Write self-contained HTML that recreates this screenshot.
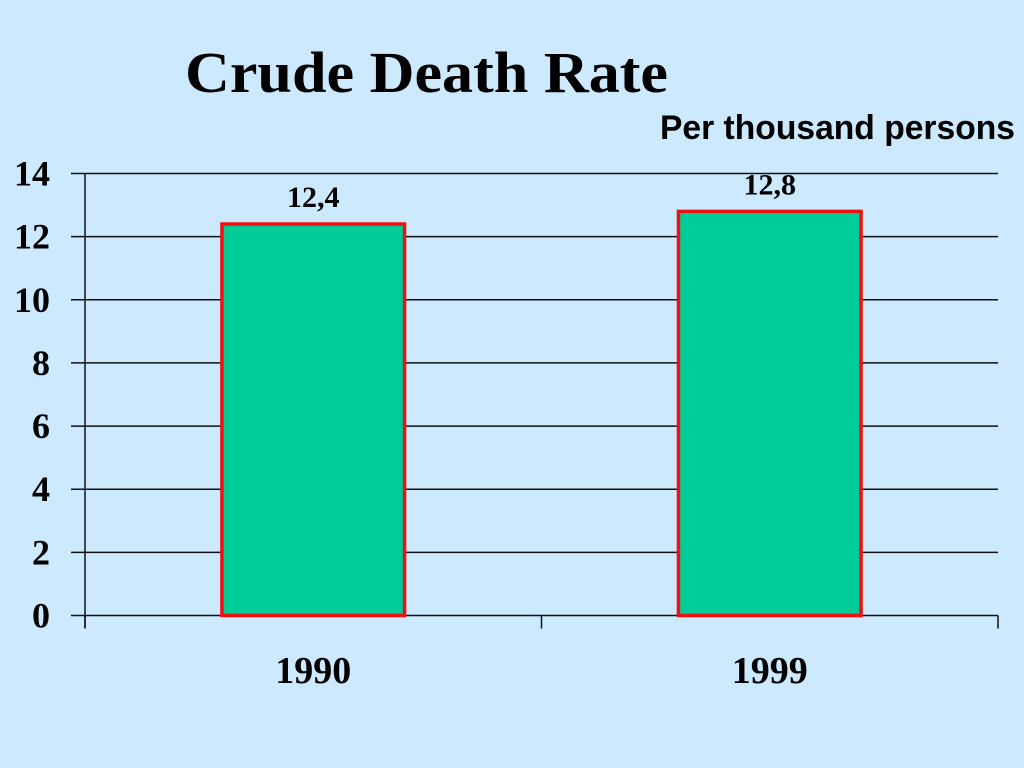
<!DOCTYPE html>
<html><head><meta charset="utf-8"><style>
body{margin:0;background:#cce9fd;}
svg{display:block}
</style></head><body>
<svg width="1024" height="768" xmlns="http://www.w3.org/2000/svg">
<rect width="1024" height="768" fill="#cce9fd"/>
<text x="185" y="92" textLength="483" lengthAdjust="spacingAndGlyphs" font-family="Liberation Serif, serif" font-weight="bold" font-size="58" fill="#000">Crude Death Rate</text>
<text x="660" y="139" textLength="355" lengthAdjust="spacingAndGlyphs" font-family="Liberation Sans, sans-serif" font-weight="bold" font-size="34" fill="#000">Per thousand persons</text>
<g id="plot"></g>
</svg>
<script>
const categories=["1990","1999"];
const values=[12.4,12.8];
const valueLabels=["12,4","12,8"];
const yTicks=[0,2,4,6,8,10,12,14];
const NS="http://www.w3.org/2000/svg";
const X0=85,X1=998,Y0=615.5,Y1=173.5,YMAX=14;
const y=v=>Y0-(Y0-Y1)*v/YMAX;
const bandW=(X1-X0)/categories.length;
const xc=i=>X0+bandW*(i+0.5);
const g=document.getElementById('plot');
function mk(tag,attrs,text){const e=document.createElementNS(NS,tag);for(const k in attrs)e.setAttribute(k,attrs[k]);if(text!=null)e.textContent=text;g.appendChild(e);return e;}
yTicks.forEach(t=>{
 const l=mk('line',{x1:71,x2:X1,y1:y(t),y2:y(t),stroke:'#111',"stroke-width":1.5});
 
 
 const tx=mk('text',{x:50,y:y(t)+12,"text-anchor":"end","font-family":"Liberation Serif, serif","font-weight":"bold","font-size":36,fill:'#000'},String(t));
 
 
});
const ax=mk('line',{x1:X0,x2:X0,y1:Y1,y2:Y0+13,stroke:'#111',"stroke-width":1.5});


for(let i=0;i<=categories.length;i++){
 const tk=mk('line',{x1:X0+bandW*i,x2:X0+bandW*i,y1:Y0,y2:Y0+13,stroke:'#111',"stroke-width":1.5});
 
 
}
const bw=bandW*0.4;
categories.forEach((c,i)=>{
 const b=mk('rect',{x:xc(i)-bw/2,y:y(values[i]),width:bw,height:Y0-y(values[i]),fill:'#00cc99',stroke:'#ee1111',"stroke-width":3.5});
 
 
 const vl=mk('text',{x:xc(i),y:y(values[i])-17,"text-anchor":"middle","font-family":"Liberation Serif, serif","font-weight":"bold","font-size":30,fill:'#000'},valueLabels[i]);
 
 
 const cl=mk('text',{x:xc(i),y:683,"text-anchor":"middle","font-family":"Liberation Serif, serif","font-weight":"bold","font-size":38,fill:'#000'},c);
 
 
});
</script>
</body></html>
